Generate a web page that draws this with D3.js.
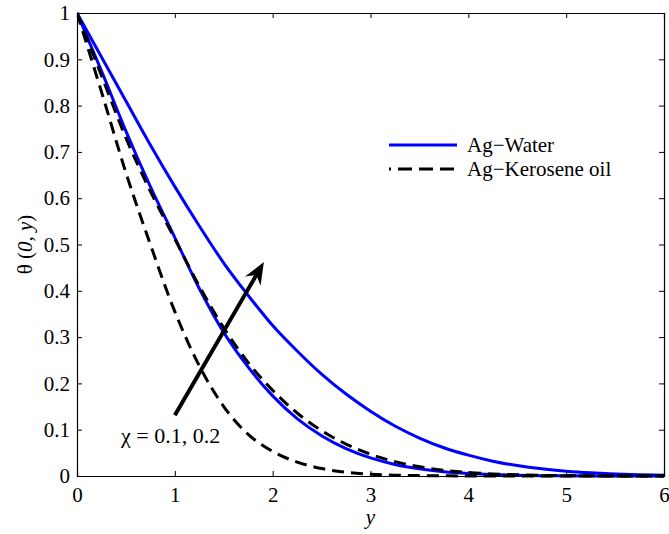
<!DOCTYPE html>
<html>
<head>
<meta charset="utf-8">
<script src="https://cdn.jsdelivr.net/npm/d3@7"></script>
<style>
  html, body { margin: 0; padding: 0; background: #fff; }
  svg { display: block; }
  svg text { font-family: "Liberation Serif", "Times New Roman", Times, serif; fill: #000; }
</style>
</head>
<body>
<svg id="chart" width="669" height="534"></svg>
<script>
// Temperature profiles θ(0, y) for the two nanofluids
const yGrid = [0, 0.25, 0.5, 0.75, 1, 1.25, 1.5, 1.75, 2, 2.25, 2.5, 2.75, 3, 3.25, 3.5, 3.75, 4, 4.25, 4.5, 4.75, 5, 5.25, 5.5, 5.75, 6];

const waterChi02 = [1, 0.905, 0.81, 0.715, 0.625, 0.54, 0.46, 0.39, 0.325, 0.27, 0.22, 0.177, 0.14, 0.108, 0.082, 0.061, 0.045, 0.032, 0.0225, 0.0155, 0.0105, 0.007, 0.0045, 0.0028, 0.0015];
const waterChi01 = [1, 0.875, 0.745, 0.625, 0.515, 0.405, 0.31, 0.235, 0.173, 0.124, 0.087, 0.059, 0.039, 0.025, 0.0155, 0.0093, 0.0054, 0.003, 0.0016, 0.0008, 0.0004, 0.0002, 0.0001, 0, 0];
const keroseneChi02 = [1, 0.865, 0.73, 0.615, 0.512, 0.41, 0.32, 0.245, 0.185, 0.136, 0.098, 0.069, 0.047, 0.031, 0.02, 0.0125, 0.0076, 0.0045, 0.0026, 0.0014, 0.0007, 0.0004, 0.0002, 0, 0];
const keroseneChi01 = [1, 0.83, 0.655, 0.5, 0.355, 0.238, 0.15, 0.09, 0.053, 0.03, 0.016, 0.0082, 0.004, 0.0018, 0.0008, 0.0003, 0.0001, 0, 0, 0, 0, 0, 0, 0, 0];

const xTicks = [0, 1, 2, 3, 4, 5, 6];
const yTicks = [0, 0.1, 0.2, 0.3, 0.4, 0.5, 0.6, 0.7, 0.8, 0.9, 1];
const legendLabels = ["Ag\u2212Water", "Ag\u2212Kerosene oil"];
const arrowFrom = [1.0, 0.131];
const arrowTo = [1.91, 0.462];
const annotation = "\u03c7 = 0.1, 0.2";
const annotationAt = [0.45, 0.071];

const serif = "'Liberation Serif', 'Times New Roman', Times, serif";
const margin = { left: 77, right: 5, top: 13, bottom: 58 };
const W = 669, H = 534;
const svg = d3.select("#chart");

const x = d3.scaleLinear().domain([0, 6]).range([margin.left, W - margin.right]);
const y = d3.scaleLinear().domain([0, 1]).range([H - margin.bottom, margin.top]);

svg.append("defs").append("clipPath").attr("id", "plot-clip")
  .append("rect")
  .attr("x", x(0)).attr("y", y(1) - 2)
  .attr("width", x(6) - x(0)).attr("height", y(0) - y(1) + 4);

const tickFont = 21;

// Axes: ticks point inward, mirrored on top and right
const axisBottom = d3.axisBottom(x).tickValues(xTicks).tickSize(-5).tickPadding(11).tickFormat(d3.format("d"));
const axisTop = d3.axisTop(x).tickValues(xTicks).tickSize(-5).tickFormat("");
const axisLeft = d3.axisLeft(y).tickValues(yTicks).tickSize(-5).tickPadding(7).tickFormat(d => d === 0 || d === 1 ? String(d) : d3.format(".1f")(d));
const axisRight = d3.axisRight(y).tickValues(yTicks).tickSize(-5).tickFormat("");

function styleAxis(g) {
  g.attr("font-family", serif).attr("font-size", tickFont);
  g.select(".domain").attr("stroke", "#000").attr("stroke-width", 1.2);
  g.selectAll(".tick line").attr("stroke", "#000").attr("stroke-width", 1);
  g.selectAll(".tick text").attr("fill", "#000").attr("font-family", serif).attr("font-size", tickFont);
}

svg.append("g").attr("transform", `translate(0,${y(0)})`).call(axisBottom).call(styleAxis);
svg.append("g").attr("transform", `translate(0,${y(1)})`).call(axisTop).call(styleAxis);
svg.append("g").attr("transform", `translate(${x(0)},0)`).call(axisLeft).call(styleAxis);
svg.append("g").attr("transform", `translate(${x(6)},0)`).call(axisRight).call(styleAxis);

// Curves
const line = d3.line()
  .x((d, i) => x(yGrid[i]))
  .y(d => y(d))
  .curve(d3.curveMonotoneX);

const plot = svg.append("g").attr("clip-path", "url(#plot-clip)");
const dashPattern = "12,7";
const series = [
  { values: waterChi02, color: "#0000ff", dash: null },
  { values: waterChi01, color: "#0000ff", dash: null },
  { values: keroseneChi02, color: "#000", dash: dashPattern },
  { values: keroseneChi01, color: "#000", dash: dashPattern }
];
series.forEach(s => {
  plot.append("path")
    .attr("d", line(s.values))
    .attr("fill", "none")
    .attr("stroke", s.color)
    .attr("stroke-width", 3)
    .attr("stroke-dasharray", s.dash);
});

// Arrow showing the direction of increasing χ
const ax0 = x(arrowFrom[0]), ay0 = y(arrowFrom[1]);
const ax1 = x(arrowTo[0]), ay1 = y(arrowTo[1]);
const ang = Math.atan2(ay1 - ay0, ax1 - ax0);
const headLen = 22, headHalf = 9, notch = 7;
const bx = ax1 - headLen * Math.cos(ang), by = ay1 - headLen * Math.sin(ang);
svg.append("line")
  .attr("x1", ax0).attr("y1", ay0)
  .attr("x2", ax1 - 10 * Math.cos(ang)).attr("y2", ay1 - 10 * Math.sin(ang))
  .attr("stroke", "#000").attr("stroke-width", 4);
svg.append("path")
  .attr("d", `M${ax1},${ay1}
    L${bx + headHalf * Math.sin(ang)},${by - headHalf * Math.cos(ang)}
    L${ax1 - (headLen - notch) * Math.cos(ang)},${ay1 - (headLen - notch) * Math.sin(ang)}
    L${bx - headHalf * Math.sin(ang)},${by + headHalf * Math.cos(ang)}Z`)
  .attr("fill", "#000");

svg.append("text")
  .attr("x", x(annotationAt[0])).attr("y", y(annotationAt[1]))
  .attr("font-family", serif).attr("font-size", 22)
  .text(annotation);

// Legend
const legend = svg.append("g");
const legendRows = [
  { label: legendLabels[0], color: "#0000ff", dash: null, ly: 145 },
  { label: legendLabels[1], color: "#000", dash: "14,7", ly: 169 }
];
legendRows.forEach(r => {
  legend.append("line")
    .attr("x1", 389).attr("x2", 457).attr("y1", r.ly).attr("y2", r.ly)
    .attr("stroke", r.color).attr("stroke-width", 3)
    .attr("stroke-dasharray", r.dash)
    .attr("stroke-dashoffset", r.dash ? 12 : null);
  legend.append("text")
    .attr("x", 467).attr("y", r.ly + 7)
    .attr("font-family", serif).attr("font-size", 21)
    .text(r.label);
});

// Axis titles
svg.append("text")
  .attr("x", (x(0) + x(6)) / 2).attr("y", 524)
  .attr("text-anchor", "middle")
  .attr("font-family", serif).attr("font-size", 21).attr("font-style", "italic")
  .text("y");

const yTitle = svg.append("text")
  .attr("transform", `translate(32,${(y(0) + y(1)) / 2}) rotate(-90)`)
  .attr("text-anchor", "middle")
  .attr("font-family", serif).attr("font-size", 21);
yTitle.append("tspan").text("\u03b8 (");
yTitle.append("tspan").attr("font-style", "italic").text("0, y");
yTitle.append("tspan").text(")");
</script>
</body>
</html>
